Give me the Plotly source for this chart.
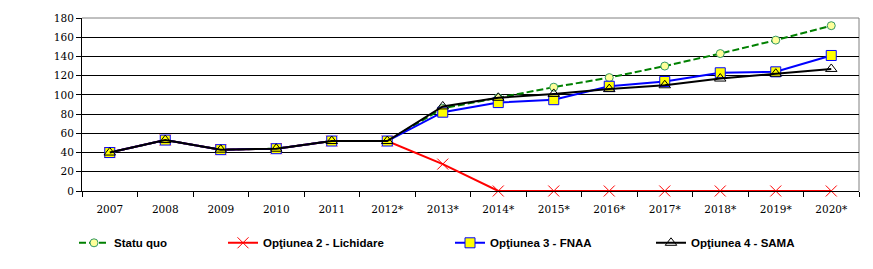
import plotly.graph_objects as go

years = ["2007", "2008", "2009", "2010", "2011", "2012*", "2013*", "2014*",
         "2015*", "2016*", "2017*", "2018*", "2019*", "2020*"]
statu_quo = [40, 53, 43, 44, 52, 52, 86, 97, 108, 118, 130, 143, 157, 172]
lichidare = [40, 53, 43, 44, 52, 52, 28, 0, 0, 0, 0, 0, 0, 0]
fnaa = [40, 53, 43, 44, 52, 52, 82, 92, 95, 109, 114, 123, 124, 141]
sama = [40, 53, 43, 44, 52, 52, 88, 97, 101, 106, 110, 117, 122, 127]
y_ticks = [0, 20, 40, 60, 80, 100, 120, 140, 160, 180]

fig = go.Figure()
fig.add_trace(go.Scatter(
    x=years, y=statu_quo, name="Statu quo", mode="lines+markers",
    line=dict(color="#008000", width=2, dash="7px,3px"),
    marker=dict(symbol="circle", size=8, color="#FFFF99",
                line=dict(color="#339966", width=1)),
    legend="legend"))
fig.add_trace(go.Scatter(
    x=years, y=lichidare, name="Opţiunea 2 - Lichidare", mode="lines+markers",
    line=dict(color="#FF0000", width=2), cliponaxis=False,
    marker=dict(symbol="x-thin-open", size=11, color="#FF0000",
                line=dict(color="#FF0000", width=1)),
    legend="legend2"))
fig.add_trace(go.Scatter(
    x=years, y=fnaa, name="Opţiunea 3 - FNAA", mode="lines+markers",
    line=dict(color="#0000FF", width=2),
    marker=dict(symbol="square", size=10, color="#FFFF00",
                line=dict(color="#0000FF", width=1)),
    legend="legend3"))
fig.add_trace(go.Scatter(
    x=years, y=sama, name="Opţiunea 4 - SAMA", mode="lines+markers",
    line=dict(color="#000000", width=2),
    marker=dict(symbol="triangle-up-open", size=10, color="#000000",
                line=dict(color="#000000", width=1)),
    legend="legend4"))

leg_font = dict(family="Liberation Sans", size=11.5, color="#000000", weight="bold")
def leg(xpix):
    return dict(x=(xpix - 82) / 777, y=(193 - 246) / 177, xref="paper", yref="paper",
                xanchor="left", yanchor="middle", orientation="h", font=leg_font,
                bgcolor="rgba(0,0,0,0)", borderwidth=0)

tick_font = dict(family="DejaVu Serif", size=10.5, color="black")

fig.update_layout(
    width=873, height=269,
    margin=dict(l=82, r=14, t=16, b=76),
    paper_bgcolor="white", plot_bgcolor="white",
    showlegend=True,
    legend=leg(74), legend2=leg(223), legend3=leg(450), legend4=leg(651),
    xaxis=dict(
        type="category", tickson="boundaries", ticks="outside", ticklen=5,
        tickcolor="black", showline=True, linecolor="black", linewidth=1,
        showgrid=False, zeroline=False, tickangle=0, ticklabelstandoff=8,
        tickfont=tick_font, range=[-0.5, 13.5]),
    yaxis=dict(
        range=[0, 180], tickvals=y_ticks, ticks="outside", ticklen=5,
        tickcolor="black", showline=True, linecolor="black", linewidth=1,
        showgrid=True, gridcolor="black", gridwidth=1, zeroline=False,
        tickfont=tick_font),
    shapes=[
        dict(type="line", xref="paper", yref="paper", x0=0, x1=1, y0=1, y1=1,
             line=dict(color="#808080", width=1), layer="above"),
        dict(type="line", xref="paper", yref="paper", x0=1, x1=1, y0=0, y1=1,
             line=dict(color="#808080", width=1), layer="below"),
    ],
)
fig.write_html("out.html")
